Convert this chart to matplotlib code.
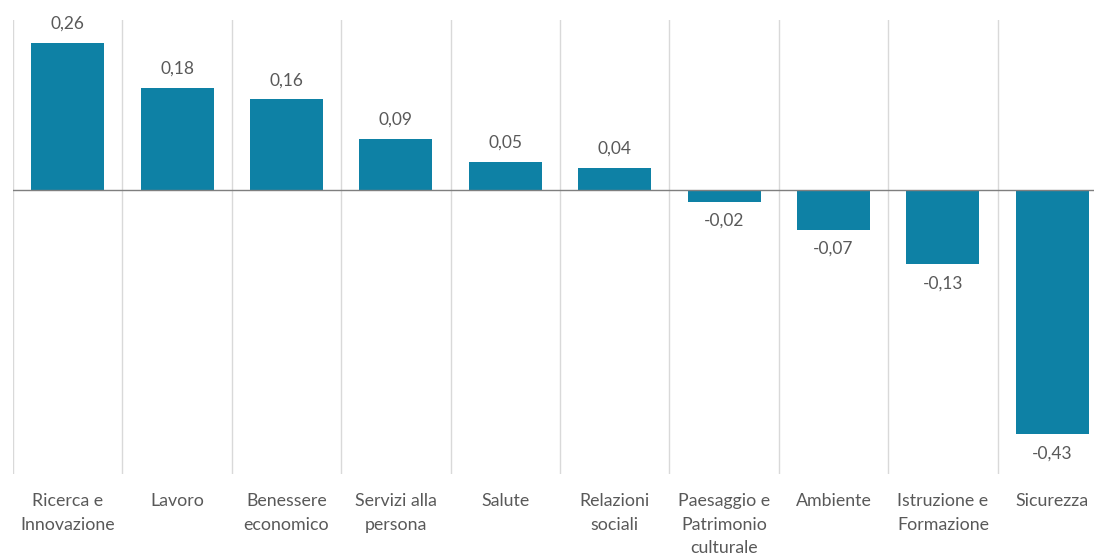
import matplotlib
matplotlib.use("Agg")
import matplotlib.pyplot as plt
import numpy as np

# ── Data ─────────────────────────────────────────────────────────────
categories = ["Ricerca e\nInnovazione", "Lavoro", "Benessere\neconomico",
              "Servizi alla\npersona", "Salute", "Relazioni\nsociali",
              "Paesaggio e\nPatrimonio\nculturale", "Ambiente",
              "Istruzione e\nFormazione", "Sicurezza"]
values = [0.26, 0.18, 0.16, 0.09, 0.05, 0.04, -0.02, -0.07, -0.13, -0.43]

BAR_COLOR = "#0e81a5"
TEXT_COLOR = "#595959"
plt.rcParams["font.family"] = ["Lato", "DejaVu Sans"]

W, H = 1094, 555
fig = plt.figure(figsize=(W / 100, H / 100), dpi=100)
# axes spans px 13..1094 horizontally, 20..474 vertically
ax = fig.add_axes([13 / W, 1 - 474 / H, (W - 13) / W, (474 - 20) / H])

x = np.arange(len(values))
ax.bar(x, values, width=0.667, color=BAR_COLOR, zorder=3)

cell = (1107 - 13) / 10  # px per category
ax.set_xlim(-0.5, 9.5 - (1107 - W) / cell)
ax.set_ylim(-0.5, 0.3)

# vertical separators between categories
for b in np.arange(-0.5, 10, 1.0):
    ax.axvline(b, color="#d9d9d9", lw=1, zorder=1)
ax.axhline(0, color="#7f7f7f", lw=1, zorder=4)

for xi, v in zip(x, values):
    label = f"{v:.2f}".replace(".", ",")
    if v >= 0:
        ax.annotate(label, (xi, v), xytext=(0, 8), textcoords="offset points",
                    ha="center", va="bottom", fontsize=12.5, color=TEXT_COLOR)
    else:
        ax.annotate(label, (xi, v), xytext=(0, -8), textcoords="offset points",
                    ha="center", va="top", fontsize=12.5, color=TEXT_COLOR)

ax.set_xticks(x)
ax.set_xticklabels(categories, fontsize=12.8, color=TEXT_COLOR, linespacing=1.55)
ax.tick_params(axis="x", length=0, pad=14)
ax.set_yticks([])
for s in ax.spines.values():
    s.set_visible(False)

fig.savefig("out.png", dpi=100)
